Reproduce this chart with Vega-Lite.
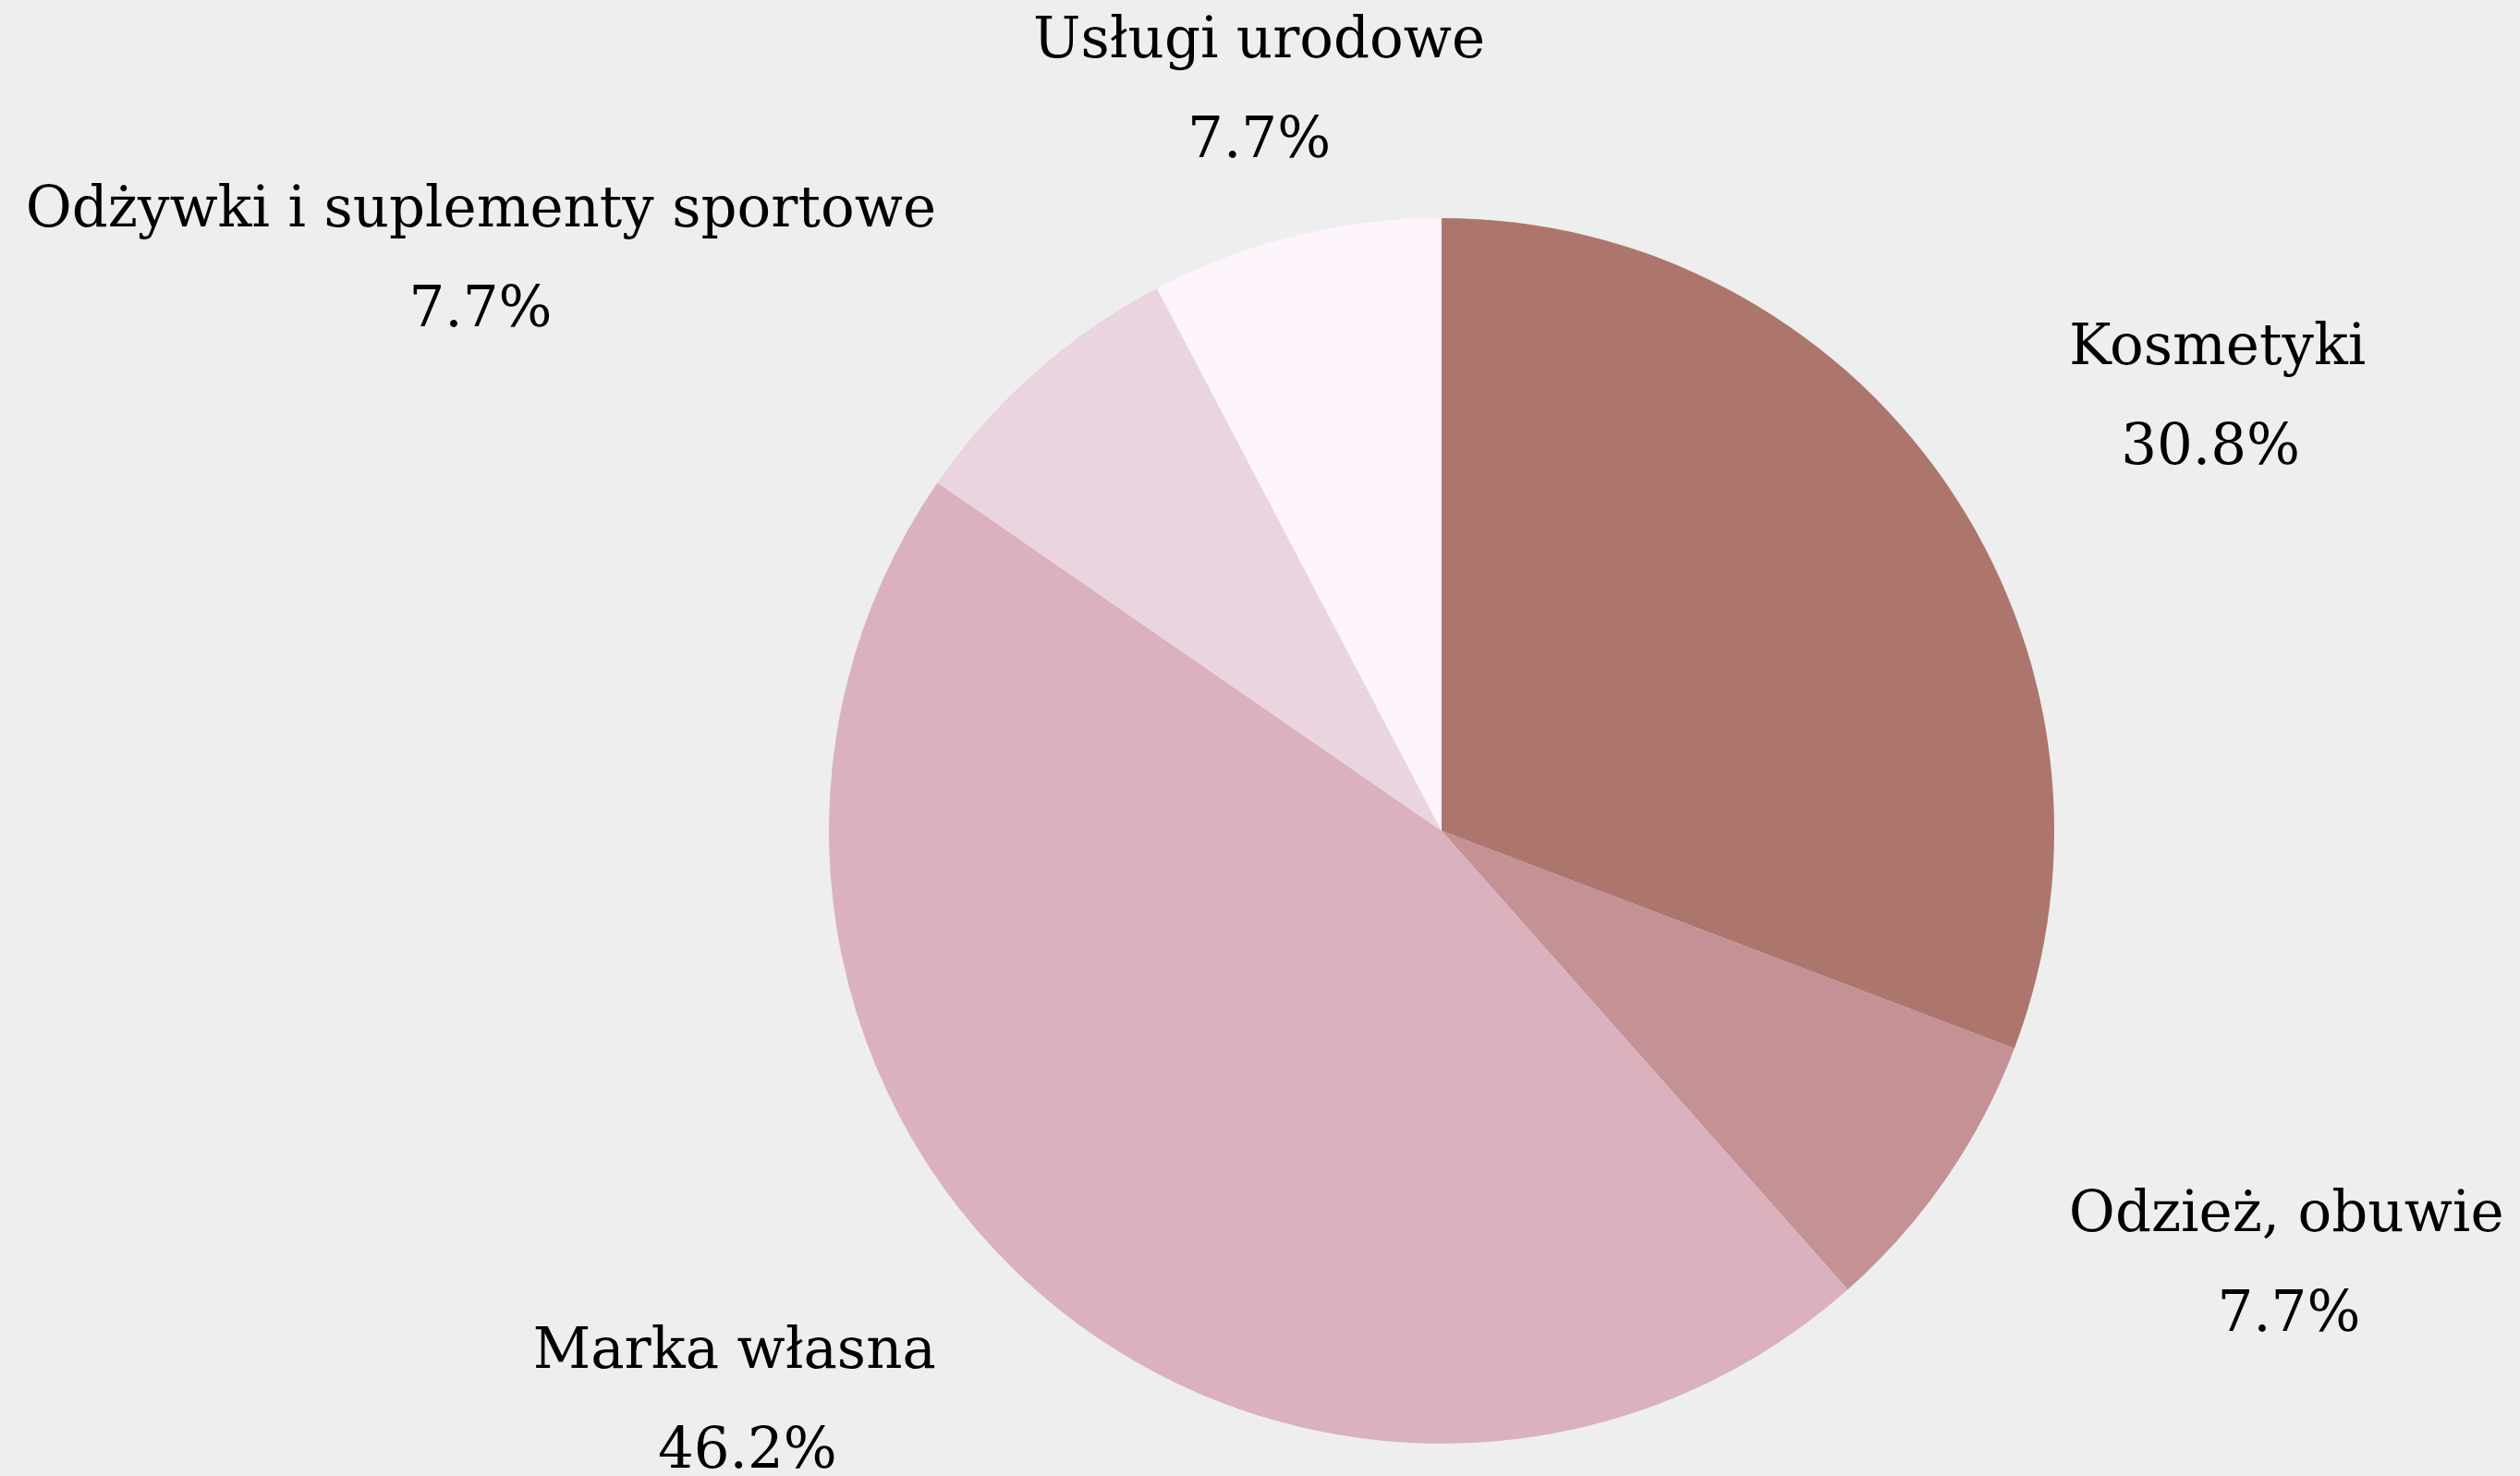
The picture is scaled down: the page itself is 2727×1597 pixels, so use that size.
{
  "$schema": "https://vega.github.io/schema/vega-lite/v6.json",
  "width": 2334,
  "height": 1396,
  "autosize": {"type": "none"},
  "padding": {"left": 393, "top": 201, "right": 0, "bottom": 0},
  "background": "#eeeeee",
  "config": {"view": {"stroke": null}},
  "data": {
    "values": [
      {"idx": 1, "name": "Kosmetyki", "share": 0.3077},
      {"idx": 2, "name": "Odzież, obuwie", "share": 0.0769},
      {"idx": 3, "name": "Marka własna", "share": 0.4615},
      {"idx": 4, "name": "Odżywki i suplementy sportowe", "share": 0.0769},
      {"idx": 5, "name": "Usługi urodowe", "share": 0.0769}
    ]
  },
  "encoding": {
    "theta": {"field": "share", "type": "quantitative", "stack": true},
    "order": {"field": "idx", "type": "quantitative"}
  },
  "layer": [
    {
      "mark": {"type": "arc", "outerRadius": 663},
      "encoding": {
        "color": {
          "field": "name",
          "type": "nominal",
          "legend": null,
          "scale": {
            "domain": ["Kosmetyki", "Odzież, obuwie", "Marka własna", "Odżywki i suplementy sportowe", "Usługi urodowe"],
            "range": ["#ad766d", "#c49194", "#dab1bd", "#e9d4e0", "#fdf4fc"]
          }
        }
      }
    },
    {
      "mark": {
        "type": "text", "radius": 825, "dy": -54, "font": "DejaVu Serif", "fontSize": 61, "fill": "#000000", "baseline": "middle",
        "align": {"expr": "abs((datum.share_start + datum.share_end) / 2 - 0.5) > 0.42 ? 'center' : ((datum.share_start + datum.share_end) / 2 < 0.5 ? 'left' : 'right')"}
      },
      "encoding": {"text": {"field": "name", "type": "nominal"}}
    },
    {
      "mark": {
        "type": "text", "radius": 825, "dy": 54, "font": "DejaVu Serif", "fontSize": 61, "fill": "#000000", "baseline": "middle", "align": "center",
        "dx": {"expr": "abs((datum.share_start + datum.share_end) / 2 - 0.5) > 0.42 ? 0 : ((datum.share_start + datum.share_end) / 2 < 0.5 ? 1 : -1) * length(datum.name) * 17"}
      },
      "encoding": {"text": {"field": "share", "type": "quantitative", "format": ".1%"}}
    }
  ]
}
